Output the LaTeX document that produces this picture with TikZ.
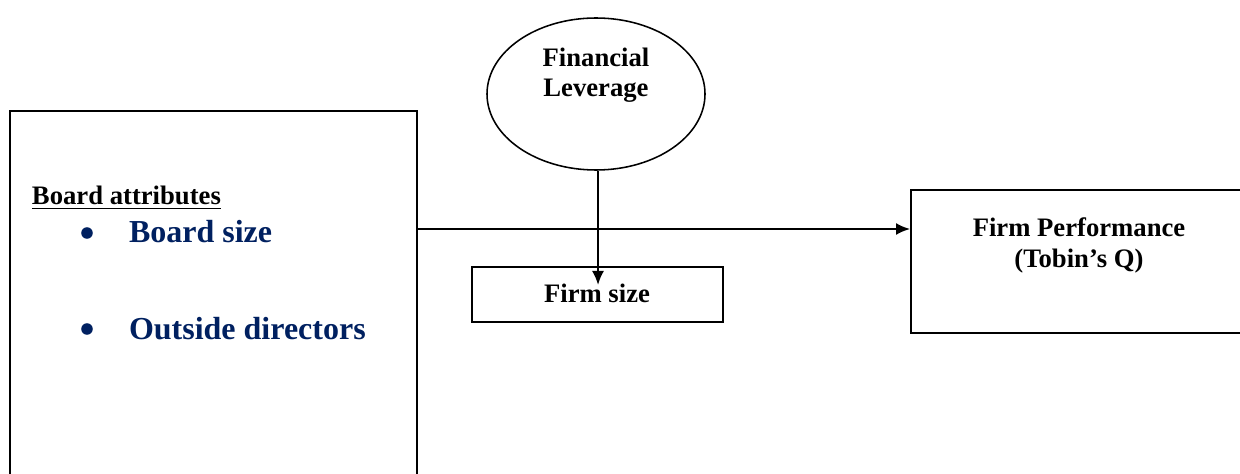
\documentclass[tikz,border=0pt]{standalone}
\usepackage{fontspec}
\setmainfont{Liberation Serif}
\usetikzlibrary{positioning,arrows,arrows.meta,shapes.geometric}
\definecolor{navy}{RGB}{0,32,96}

\tikzset{
	box/.style={draw, rectangle, line width=0.9pt, inner sep=0},
	txt/.style={inner sep=0, font=\bfseries\fontsize{12}{14}\selectfont},
	item/.style={inner sep=0, text=navy, font=\bfseries\fontsize{14.4}{17}\selectfont},
	dot/.style={circle, fill=navy, inner sep=0, minimum size=5.2pt}
}

\begin{document}
\begin{tikzpicture}[>={Latex[length=6.3pt,width=5.4pt]}, x=0.45pt, y=-0.45pt, line width=0.9pt]
	\useasboundingbox (0,0) rectangle (1240,474);
	\clip (0,0) rectangle (1240,474);

\node[box, minimum width=183.15pt, minimum height=170.55pt] (board) at (213.5,300.5) {};
\node[box, minimum width=112.95pt, minimum height=24.75pt] (size) at (597.5,294.5) {};
\node[box, minimum width=152.55pt, minimum height=64.35pt] (perf) at (1080.5,261.5) {};
\node[draw, ellipse, line width=0.7pt, minimum width=98.1pt, minimum height=68.4pt, inner sep=0] (lev) at (596,94) {};

\node[txt, anchor=base west] (attr) at (31,205) {\underline{Board attributes}};
\node[dot] (b1) at (87,233) {};
\node[item, anchor=base west] (i1) at (128,243) {Board size};
\node[dot] (b2) at (87,329) {};
\node[item, anchor=base west] (i2) at (128,339) {Outside directors};
\node[txt, align=center, font=\bfseries\fontsize{12}{13.5}\selectfont, anchor=base] (levtxt) at (596,97) {Financial\\Leverage};
\node[txt, anchor=base] (sizetxt) at (597,302) {Firm size};
\node[txt, align=center, font=\bfseries\fontsize{12}{14}\selectfont, anchor=base] (perftxt) at (1079,268) {Firm Performance\\(Tobin's Q)};

\coordinate (tip) at (598,285);
\draw [->] (board.east |- 0,229) -- (perf.west |- 0,229);
\draw [->] (lev.south -| tip) -- (tip);
\end{tikzpicture}
\end{document}
